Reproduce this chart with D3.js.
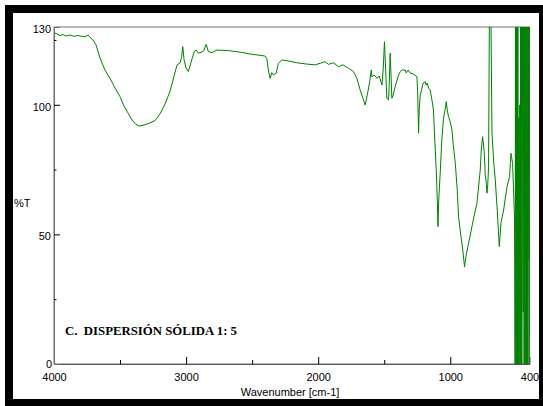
<!DOCTYPE html>
<html>
<head>
<meta charset="utf-8">
<script src="https://cdn.jsdelivr.net/npm/d3@7"></script>
<style>
    body { margin: 0; background: #fff; }
    svg { display: block; }
</style>
</head>
<body>
<div id="chart"></div>
<script>
// Spectrum as [wavenumber cm-1, %T]
const bandOH = [
    [4000, 127.8], [3977, 127.3], [3955, 126.7], [3932, 127.1], [3909, 126.5], [3879, 126.9],
    [3848, 126.4], [3818, 126.7], [3788, 126.4], [3765, 126.2], [3742, 126.9], [3727, 126.0],
    [3705, 125.0], [3682, 123.1], [3652, 118.1], [3614, 113.4], [3576, 110.2], [3538, 106.5],
    [3500, 103.1], [3470, 99.5], [3439, 96.8], [3409, 94.1], [3379, 92.4], [3356, 91.8],
    [3318, 92.2], [3273, 93.0], [3235, 93.9], [3197, 96.5], [3159, 100.3], [3121, 105.3],
    [3091, 111.1], [3068, 115.4], [3045, 116.2], [3034, 118.4], [3025, 122.4], [3015, 117.3],
    [3000, 114.2], [2983, 112.8], [2962, 116.5], [2939, 120.4], [2924, 121.1], [2907, 119.9],
    [2886, 120.2], [2867, 120.8], [2848, 123.3], [2831, 120.5], [2805, 120.1], [2767, 121.1],
    [2680, 120.9], [2604, 120.4], [2515, 119.6], [2402, 118.8], [2389, 117.9], [2377, 113.4],
    [2364, 110.2], [2351, 112.4], [2339, 111.5], [2318, 112.2], [2301, 116.0], [2275, 117.3],
    [2237, 117.0], [2161, 116.2], [2086, 115.7], [2023, 115.4]
];

const bandMid = [
    [1985, 116.0], [1947, 116.6], [1922, 115.6], [1884, 116.2], [1846, 114.7], [1813, 115.4],
    [1770, 114.1], [1733, 112.8], [1707, 110.2], [1682, 105.7], [1644, 99.9], [1621, 105.7],
    [1606, 110.2], [1598, 113.4], [1593, 110.8], [1576, 111.5], [1555, 110.2], [1538, 111.1],
    [1517, 107.6], [1508, 113.4], [1498, 124.3], [1489, 113.4], [1480, 102.5], [1467, 101.9],
    [1462, 107.6], [1455, 119.9], [1447, 109.6], [1442, 102.5], [1432, 103.8], [1417, 107.0],
    [1394, 111.1], [1379, 112.8], [1364, 113.4], [1341, 113.4], [1333, 112.3], [1318, 113.4],
    [1303, 112.2], [1280, 111.9], [1252, 110.8], [1246, 103.8], [1240, 89.0], [1235, 98.0],
    [1227, 103.8], [1214, 106.4], [1205, 108.4], [1189, 108.9], [1182, 107.6], [1174, 108.4],
    [1164, 106.4], [1152, 105.7], [1139, 101.9], [1127, 98.0], [1117, 86.4], [1106, 74.8],
    [1098, 63.3], [1093, 53.0], [1087, 63.3], [1076, 73.7], [1064, 86.4], [1051, 94.8],
    [1042, 97.2], [1030, 101.2], [1023, 98.0], [1013, 95.4]
];

const bandLow = [
    [1000, 93.4], [987, 90.3], [977, 84.5], [962, 77.5], [947, 67.1], [937, 56.8],
    [919, 49.1], [905, 44.0], [892, 37.5], [879, 42.1], [861, 46.6], [848, 49.8],
    [836, 53.0], [818, 57.5], [798, 62.0], [788, 67.1], [773, 74.8], [765, 82.6],
    [755, 87.7], [742, 81.4], [735, 72.9], [727, 69.8], [722, 65.9], [716, 69.1],
    [710, 76.1], [702, 150], [695, 150], [684, 89.1], [672, 78.7], [659, 71.0],
    [646, 60.7], [629, 45.3], [616, 54.4], [596, 59.4], [570, 68.4], [551, 72.3],
    [540, 81.3], [528, 77.4], [520, 66.0], [513, 55.6]
];

// detector noise at the low end, swings past both limits
const noiseTail = [
    [509, -5], [506, 140], [503, -5], [500, 140], [497, -5], [494, 140], [491, -5],
    [488, 140], [485, -5], [482, 95], [478, -5], [474, 100], [470, -5], [467, 140],
    [464, -5], [461, 140], [458, -5], [452, 140], [448, 20], [444, 140], [441, -5],
    [438, 140], [435, -5], [432, 140], [429, -5], [426, 140], [423, -5], [420, 140],
    [416, -5], [413, 140], [410, 40], [407, 140], [404, -5], [402, 130], [400, 10]
];

const xLabels = [4000, 3000, 2000, 1000, 400];
const xMajor = [3000, 2000, 1000];
const xMinor = [3500, 2500, 1500];
const yLabels = [130, 100, 50, 0];
const yMajor = [50, 100];
const yMinor = [25, 75, 125];

// Dimensions
const W = 543, H = 406;
const plot = { left: 54, top: 27, right: 529.5, bottom: 364 };

const svg = d3.select('#chart')
    .append('svg')
    .attr('width', W)
    .attr('height', H)
    .style('font-family', '"Liberation Sans", Arial, sans-serif')
    .style('font-size', '11px');

// black frame round the whole picture
svg.append('rect')
    .attr('x', 9).attr('y', 9)
    .attr('width', 534).attr('height', 394)
    .attr('fill', 'none')
    .attr('stroke', '#000')
    .attr('stroke-width', 8);

const x = d3.scaleLinear().domain([4000, 400]).range([plot.left, plot.right]);
const y = d3.scaleLinear().domain([0, 130]).range([plot.bottom, plot.top]);

svg.append('clipPath').attr('id', 'clip')
    .append('rect')
    .attr('x', plot.left).attr('y', plot.top)
    .attr('width', plot.right - plot.left)
    .attr('height', plot.bottom - plot.top);

// plot box
svg.append('rect')
    .attr('x', plot.left).attr('y', plot.top)
    .attr('width', plot.right - plot.left)
    .attr('height', plot.bottom - plot.top)
    .attr('fill', 'none')
    .attr('stroke', '#707070')
    .attr('stroke-width', 1);

const spectrum = bandOH.concat(bandMid, bandLow, noiseTail);

const line = d3.line()
    .x(d => x(d[0]))
    .y(d => y(d[1]));

svg.append('path')
    .datum(spectrum)
    .attr('clip-path', 'url(#clip)')
    .attr('fill', 'none')
    .attr('stroke', '#008000')
    .attr('stroke-width', 1)
    .attr('d', line);

// x axis: labels, major and minor ticks (ticks point inward)
const xAxisG = svg.append('g').attr('transform', `translate(0, ${plot.bottom})`);
xAxisG.append('g')
    .call(d3.axisBottom(x).tickValues(xLabels).tickSize(0).tickPadding(9).tickFormat(d3.format('d')))
    .call(g => g.select('.domain').remove())
    .call(g => g.selectAll('text').attr('fill', '#000').style('font-size', '11px').style('font-family', 'inherit'));
xAxisG.append('g')
    .call(d3.axisBottom(x).tickValues(xMajor).tickSize(-7).tickFormat(''))
    .call(g => g.select('.domain').attr('stroke', '#555'));
xAxisG.append('g')
    .call(d3.axisBottom(x).tickValues(xMinor).tickSize(-4).tickFormat(''))
    .call(g => g.select('.domain').remove());

// y axis
const yAxisG = svg.append('g').attr('transform', `translate(${plot.left}, 0)`);
yAxisG.append('g')
    .call(d3.axisLeft(y).tickValues(yLabels).tickSize(0).tickPadding(3))
    .call(g => g.select('.domain').remove())
    .call(g => g.selectAll('text')
        .attr('fill', '#000')
        .style('font-size', '11px')
        .style('font-family', 'inherit')
        .attr('y', d => d === 0 ? 0 : 2)
        .attr('x', d => d === 0 ? -2 : -3));
yAxisG.append('g')
    .call(d3.axisLeft(y).tickValues(yMajor).tickSize(-6).tickFormat(''))
    .call(g => g.select('.domain').attr('stroke', '#707070'));
yAxisG.append('g')
    .call(d3.axisLeft(y).tickValues(yMinor).tickSize(-2.5).tickFormat(''))
    .call(g => g.select('.domain').remove());

// axis titles
svg.append('text')
    .attr('x', 290)
    .attr('y', 396)
    .attr('text-anchor', 'middle')
    .text('Wavenumber [cm-1]');

svg.append('text')
    .attr('x', 14)
    .attr('y', 207)
    .text('%T');

// sample label inside the plot
svg.append('text')
    .attr('x', 65)
    .attr('y', 335)
    .style('font-family', '"Liberation Serif", "Times New Roman", serif')
    .style('font-weight', 'bold')
    .style('font-size', '13.5px')
    .style('white-space', 'pre')
    .attr('textLength', 172)
    .attr('lengthAdjust', 'spacingAndGlyphs')
    .text('C.  DISPERSIÓN SÓLIDA 1: 5');
</script>
</body>
</html>
